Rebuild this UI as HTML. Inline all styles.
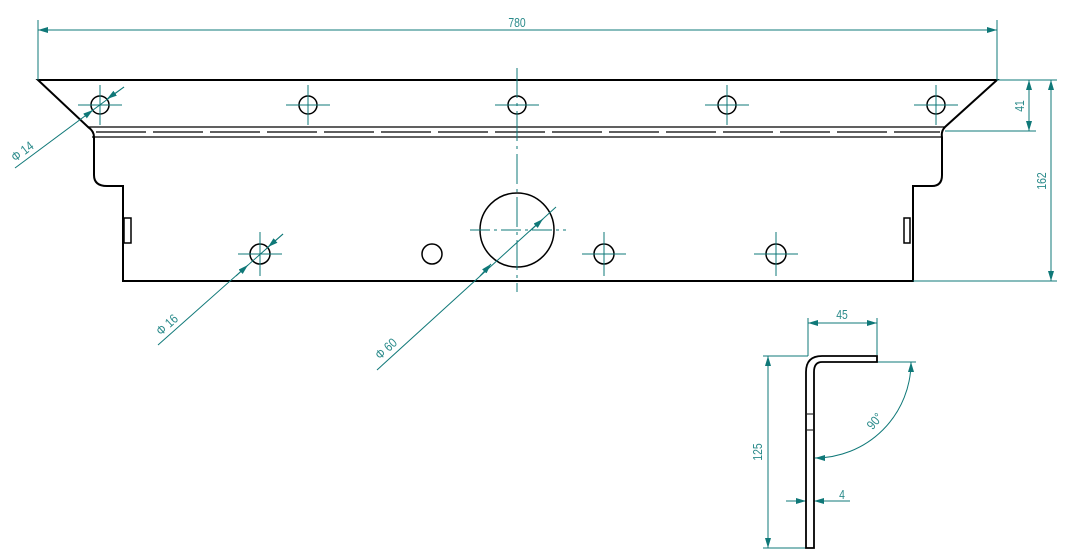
<!DOCTYPE html>
<html><head><meta charset="utf-8"><style>
html,body{margin:0;padding:0;background:#fff}
svg{display:block}
text{font-family:"Liberation Sans",sans-serif;fill:#2a8a8a;font-size:13px}
</style></head><body>
<svg width="1079" height="559" viewBox="0 0 1079 559" xmlns="http://www.w3.org/2000/svg">
<defs>
<marker id="a" viewBox="0 0 10 6" refX="10" refY="3" markerWidth="10" markerHeight="6" orient="auto-start-reverse" markerUnits="userSpaceOnUse"><path d="M0,0L10,3L0,6z" fill="#0f7878"/></marker>
</defs>
<g fill="none" stroke="#000" stroke-width="2">
<path d="M38,80 H997 L945,127 Q941,131 942,137 V175 Q942,186 932,186 H913 V281 H123 V186 H107 Q94,186 94,175 V137 Q94,131 88,127 Z"/>
<rect x="124" y="218" width="7" height="25" stroke-width="1.5"/>
<rect x="904" y="218" width="6" height="25" stroke-width="1.5"/>
<circle cx="100" cy="105" r="9" stroke-width="1.5"/>
<circle cx="308" cy="105" r="9" stroke-width="1.5"/>
<circle cx="517" cy="105" r="9" stroke-width="1.5"/>
<circle cx="727" cy="105" r="9" stroke-width="1.5"/>
<circle cx="936" cy="105" r="9" stroke-width="1.5"/>
<circle cx="260" cy="254" r="10" stroke-width="1.5"/>
<circle cx="432" cy="254" r="10" stroke-width="1.5"/>
<circle cx="604" cy="254" r="10" stroke-width="1.5"/>
<circle cx="776" cy="254" r="10" stroke-width="1.5"/>
<circle cx="517" cy="230" r="37" stroke-width="1.5"/>
</g>
<g stroke="#000" stroke-width="1.2">
<line x1="88" y1="127" x2="945" y2="127"/>
<line x1="92" y1="137" x2="942" y2="137"/>
<line x1="96" y1="132" x2="940" y2="132" stroke-dasharray="50,7"/>
</g>
<g stroke="#0f7878" stroke-width="1" fill="none">
<line x1="517" y1="68" x2="517" y2="292" stroke-dasharray="30,5,3,5"/>
<line x1="470" y1="230" x2="566" y2="230" stroke-dasharray="20,4,3,4"/>
<path d="M78,105h44M100,85v40M286,105h44M308,85v40M495,105h44M705,105h44M727,85v40M914,105h44M936,85v40"/>
<path d="M238,254h44M260,232v44M582,254h44M604,232v44M754,254h44M776,232v44"/>
<line x1="38" y1="20" x2="38" y2="80"/>
<line x1="997" y1="20" x2="997" y2="80"/>
<line x1="38" y1="30" x2="997" y2="30" marker-start="url(#a)" marker-end="url(#a)"/>
<line x1="997" y1="80" x2="1057" y2="80"/>
<line x1="945" y1="131" x2="1036" y2="131"/>
<line x1="913" y1="281" x2="1057" y2="281"/>
<line x1="1029" y1="80" x2="1029" y2="131" marker-start="url(#a)" marker-end="url(#a)"/>
<line x1="1051" y1="80" x2="1051" y2="281" marker-start="url(#a)" marker-end="url(#a)"/>
<line x1="15" y1="168" x2="124" y2="87"/>
<path d="M85,116L93,110" marker-end="url(#a)"/>
<path d="M124,87L107,99" marker-end="url(#a)"/>
<line x1="158" y1="345" x2="283" y2="234"/>
<path d="M236,276L248,265" marker-end="url(#a)"/>
<path d="M283,234L268,247" marker-end="url(#a)"/>
<line x1="377" y1="370" x2="556" y2="207"/>
<path d="M480,276L491,264" marker-end="url(#a)"/>
<path d="M530,231L543,219" marker-end="url(#a)"/>
<line x1="808" y1="318" x2="808" y2="356"/>
<line x1="877" y1="318" x2="877" y2="355"/>
<line x1="808" y1="323" x2="877" y2="323" marker-start="url(#a)" marker-end="url(#a)"/>
<line x1="763" y1="356" x2="808" y2="356"/>
<line x1="763" y1="548" x2="808" y2="548"/>
<line x1="768" y1="356" x2="768" y2="548" marker-start="url(#a)" marker-end="url(#a)"/>
<line x1="877" y1="362" x2="916" y2="362"/>
<path d="M911,362 A96,96 0 0 1 815,458" marker-start="url(#a)" marker-end="url(#a)"/>
<line x1="786" y1="501" x2="806" y2="501" marker-end="url(#a)"/>
<line x1="850" y1="501" x2="814" y2="501" marker-end="url(#a)"/>
</g>
<g fill="none" stroke="#000" stroke-width="1.8">
<path d="M806,548 V372 Q806,356 822,356 H877 V362 H822 Q814,362 814,372 V548 Z"/>
<line x1="807" y1="414" x2="813" y2="414" stroke-width="1"/>
<line x1="807" y1="430" x2="813" y2="430" stroke-width="1"/>
</g>
<text transform="translate(517,27) scale(0.8,1)" text-anchor="middle">780</text>
<text transform="translate(1027,106) rotate(-90) scale(0.8,1)" text-anchor="middle" y="-3">41</text>
<text transform="translate(1049,181) rotate(-90) scale(0.8,1)" text-anchor="middle" y="-3">162</text>
<text transform="translate(25,155) rotate(-37) scale(0.85,1)" text-anchor="middle" font-size="14">Φ 14</text>
<text transform="translate(170,328) rotate(-42) scale(0.85,1)" text-anchor="middle" font-size="14">Φ 16</text>
<text transform="translate(389,352) rotate(-42) scale(0.85,1)" text-anchor="middle" font-size="14">Φ 60</text>
<text transform="translate(842,319) scale(0.8,1)" text-anchor="middle">45</text>
<text transform="translate(765,452) rotate(-90) scale(0.8,1)" text-anchor="middle" y="-3">125</text>
<text transform="translate(842,499) scale(0.8,1)" text-anchor="middle">4</text>
<text transform="translate(878,424) rotate(-50) scale(0.85,1)" text-anchor="middle">90°</text>
</svg>
</body></html>
